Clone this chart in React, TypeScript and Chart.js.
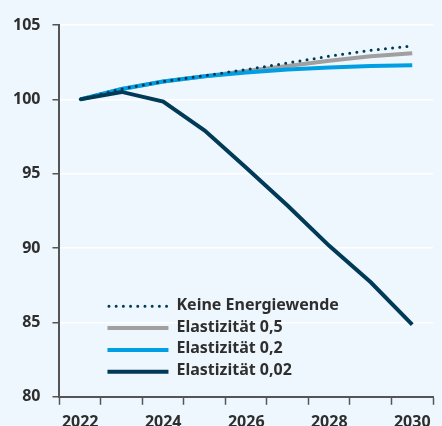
import React, { useEffect, useRef } from "react";
import { Chart, registerables } from "chart.js";

Chart.register(...registerables);

const years = ["2022", "2023", "2024", "2025", "2026", "2027", "2028", "2029", "2030"];
const keineEnergiewende = [100, 100.7, 101.2, 101.6, 102.0, 102.45, 102.9, 103.3, 103.6];
const elastizitaet05 = [100, 100.7, 101.2, 101.55, 101.9, 102.25, 102.6, 102.9, 103.1];
const elastizitaet02 = [100, 100.7, 101.2, 101.55, 101.8, 102.0, 102.15, 102.25, 102.3];
const elastizitaet002 = [100, 100.5, 99.85, 97.9, 95.4, 92.85, 90.15, 87.7, 84.85];
const labels = ["Keine Energiewende", "Elastizität 0,5", "Elastizität 0,2", "Elastizität 0,02"];

const BG = "#eff7fe";
const NAVY = "#003a57";
const BLUE = "#009fe3";
const GRAY = "#a0a0a0";
const AXIS = "#555555";
const TEXT = "#2e2e2e";
const FONT = "'Noto Sans', sans-serif";

const bgPlugin = {
  id: "bg",
  beforeDraw(chart: any) {
    const ctx = chart.ctx;
    ctx.save();
    ctx.fillStyle = BG;
    ctx.fillRect(0, 0, chart.width, chart.height);
    ctx.restore();
  },
};

const legendPlugin = {
  id: "innerLegend",
  afterDraw(chart: any) {
    const ctx = chart.ctx;
    const area = chart.chartArea;
    const x0 = area.left + 48;
    const sampleW = 61;
    const y0 = area.bottom - 90.5;
    const dy = 21.8;
    const items = [0, 1, 2, 3];
    ctx.save();
    items.forEach((i) => {
      const ds = chart.data.datasets[i];
      const y = y0 + i * dy;
      ctx.beginPath();
      ctx.strokeStyle = ds.borderColor;
      ctx.lineWidth = ds.borderWidth;
      ctx.lineCap = ds.borderDash && ds.borderDash.length ? "round" : "butt";
      ctx.setLineDash(ds.borderDash || []);
      if (ds.borderDash && ds.borderDash.length) {
        ctx.moveTo(x0 + 1.5, y);
        ctx.lineTo(x0 + sampleW, y);
      } else {
        ctx.moveTo(x0, y);
        ctx.lineTo(x0 + sampleW, y);
      }
      ctx.stroke();
      ctx.setLineDash([]);
      ctx.fillStyle = TEXT;
      ctx.font = "bold 16px " + FONT;
      ctx.textBaseline = "middle";
      ctx.textAlign = "left";
      ctx.fillText(ds.label, x0 + sampleW + 8, y - 1);
    });
    ctx.restore();
  },
};

export default function App() {
  const ref = useRef<HTMLCanvasElement | null>(null);

  useEffect(() => {
    if (!ref.current) return;
    const chart = new Chart(ref.current, {
      type: "line",
      data: {
        labels: years,
        datasets: [
          {
            label: labels[0],
            data: keineEnergiewende,
            borderColor: NAVY,
            borderWidth: 3,
            borderDash: [0, 7.2],
            borderCapStyle: "round",
            pointRadius: 0,
            order: 1,
          },
          {
            label: labels[1],
            data: elastizitaet05,
            borderColor: GRAY,
            borderWidth: 4,
            pointRadius: 0,
            order: 3,
          },
          {
            label: labels[2],
            data: elastizitaet02,
            borderColor: BLUE,
            borderWidth: 4,
            pointRadius: 0,
            order: 2,
          },
          {
            label: labels[3],
            data: elastizitaet002,
            borderColor: NAVY,
            borderWidth: 4,
            pointRadius: 0,
            order: 0,
          },
        ] as any,
      },
      options: {
        animation: false,
        responsive: false,
        layout: { padding: { left: 1, right: 9, top: 25, bottom: 0 } },
        plugins: {
          legend: { display: false },
          tooltip: { enabled: false },
        },
        scales: {
          x: {
            type: "category",
            offset: true,
            grid: {
              offset: true,
              drawOnChartArea: false,
              drawTicks: true,
              tickLength: 8,
              tickColor: AXIS,
              tickWidth: 1.5,
            },
            border: { display: true, color: AXIS, width: 2 },
            ticks: {
              autoSkip: false,
              maxRotation: 0,
              padding: 8.5,
              color: TEXT,
              font: { family: FONT, size: 16, weight: "bold" },
              callback: (_v: any, i: number) => (i % 2 === 0 ? years[i] : ""),
            },
          },
          y: {
            min: 80,
            max: 105,
            grid: {
              color: "#ffffff",
              lineWidth: 1.5,
              drawTicks: true,
              tickLength: 7,
              tickColor: AXIS,
              tickWidth: 1.5,
            },
            border: { display: true, color: AXIS, width: 2 },
            ticks: {
              stepSize: 5,
              padding: 12,
              color: TEXT,
              font: { family: FONT, size: 16, weight: "bold" },
            },
          },
        },
      } as any,
      plugins: [bgPlugin, legendPlugin],
    });
    return () => chart.destroy();
  }, []);

  return (
    <div
      style={{
        position: "absolute",
        top: 0,
        left: 0,
        width: 442,
        height: 426,
        overflow: "hidden",
        background: BG,
      }}
    >
      <canvas ref={ref} width={442} height={441} style={{ display: "block" }} />
    </div>
  );
}
